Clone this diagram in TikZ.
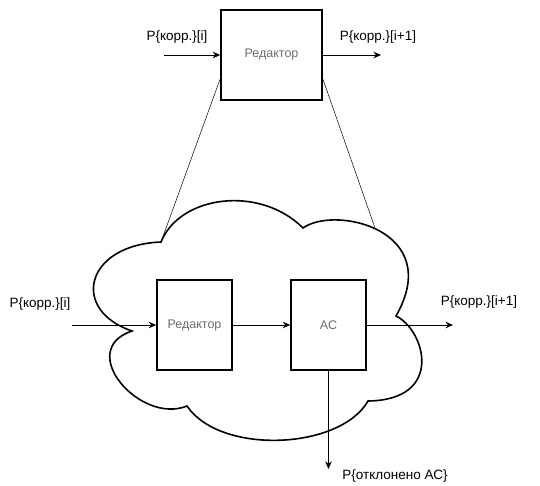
\documentclass[tikz,border=0pt]{standalone}
\usepackage{fontspec}
\setmainfont{Liberation Sans}
\usetikzlibrary{arrows.meta,positioning,calc}
\definecolor{TextoGris}{HTML}{6E6E6E}
\tikzset{
  bloque/.style = {draw, line width=1.6pt, fill=white, align=center,
                   font=\fontsize{12.5}{14}\selectfont, text=TextoGris, inner sep=0pt},
  flecha/.style = {-{Stealth[length=7.5pt,width=6.5pt]}, line width=0.8pt},
  enlace/.style = {line width=0.5pt},
  nube/.style   = {line width=1.6pt, fill=white},
  etiq/.style   = {font=\fontsize{13.5}{15}\selectfont, inner sep=0pt},
}
\begin{document}
\begin{tikzpicture}[x=1pt,y=-1pt]
  \useasboundingbox (0,0) rectangle (540,486);
  % nube
  \draw[nube] (161,242) .. controls (180,195) and (260,185) .. (303,228)
    .. controls (335,205) and (445,230) .. (396,316)
    .. controls (425,330) and (445,400) .. (368,401)
    .. controls (340,450) and (220,455) .. (187,406)
    .. controls (140,425) and (75,350) .. (132,331)
    .. controls (70,310) and (85,245) .. cycle;
  \coordinate (nubeL) at (161,242);
  \coordinate (nubeR) at (375,228);
  % bloques
  \node[bloque, minimum width=101pt, minimum height=90pt] (ed1) at (271.5,55) {Редактор};
  \node[bloque, minimum width=75pt, minimum height=90pt] (ed2) at (194.5,325) {Редактор};
  \node[bloque, minimum width=75pt, minimum height=90pt] (ac) at (328.5,325) {АС};
  % extremos libres
  \coordinate (inA) at (164,55);
  \coordinate (outA) at (381,55);
  \coordinate (inB) at (72,325);
  \coordinate (outB) at (453,325);
  \coordinate (rej) at (328.5,469);
  % conexiones
  \draw[enlace] ($(ed1.south west)+(0,-22)$) -- (nubeL);
  \draw[enlace] ($(ed1.south east)+(0,-22)$) -- (nubeR);
  \draw[flecha] (inA) -- (ed1.west);
  \draw[flecha] (ed1.east) -- (outA);
  \draw[flecha] (inB) -- (ed2.west);
  \draw[flecha] (ed2) -- (ac);
  \draw[flecha] (ac.east) -- (outB);
  \draw[flecha] (ac.south) -- (rej);
  % etiquetas
  \node[etiq] (lblInA) at (177,37) {P\{корр.\}[i]};
  \node[etiq] (lblOutA) at (378,37) {P\{корр.\}[i+1]};
  \node[etiq] (lblInB) at (40,304) {P\{корр.\}[i]};
  \node[etiq] (lblOutB) at (479,302) {P\{корр.\}[i+1]};
  \node[etiq] (lblRej) at (395,476) {P\{отклонено АС\}};
\end{tikzpicture}
\end{document}
